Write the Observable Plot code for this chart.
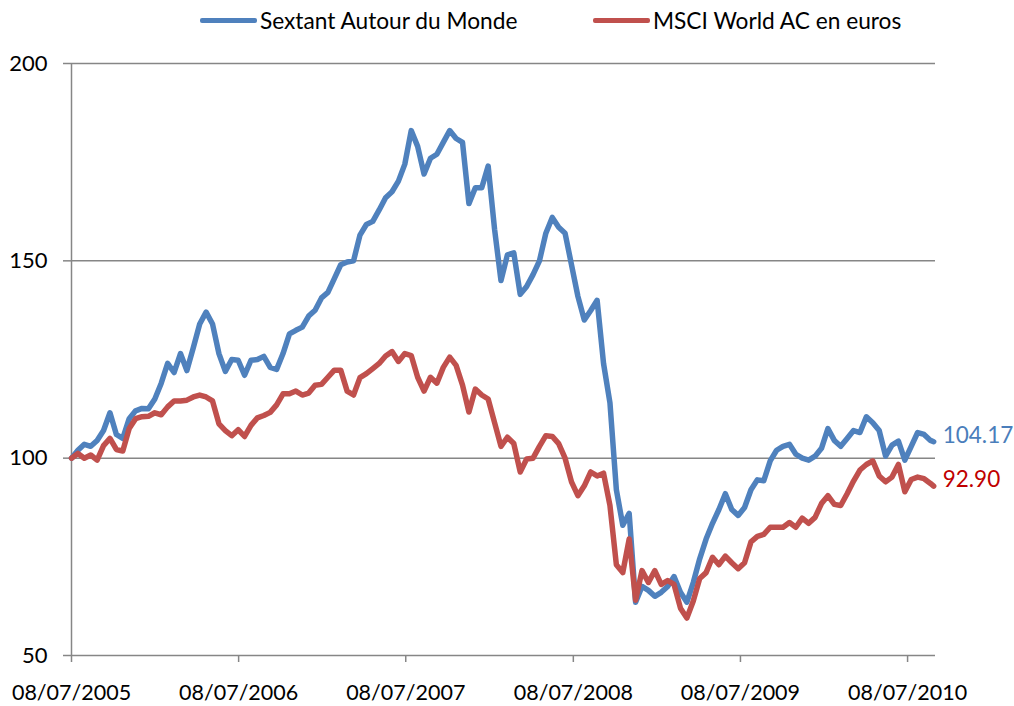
<!DOCTYPE html>
<html>
<head>
<meta charset="utf-8">
<script src="https://cdn.jsdelivr.net/npm/d3@7"></script>
<script src="https://cdn.jsdelivr.net/npm/@observablehq/plot@0.6"></script>
<style>
  html, body { margin: 0; padding: 0; background: #fff; }
  #wrap { width: 1014px; height: 706px; position: relative; overflow: hidden; font-family: Lato, sans-serif; }
  #legend { position: relative; height: 40px; font-size: 22.7px; color: #000; }
  .item { position: absolute; top: 0; height: 40px; display: flex; align-items: center; white-space: nowrap; }
  .sw { width: 57px; height: 5px; border-radius: 2px; margin-right: 3px; }
</style>
</head>
<body>
<div id="wrap">
  <div id="legend"></div>
  <div id="chart"></div>
</div>
<script>
const seriesNames = ["Sextant Autour du Monde", "MSCI World AC en euros"];
const seriesColors = ["#4f81bd", "#c0504d"];
const labelColors = ["#4a7ebb", "#c00000"];
const endLabels = ["104.17", "92.90"];
const yTicks = [50, 100, 150, 200];
const xTicks = ["2005-07-08", "2006-07-08", "2007-07-08", "2008-07-08", "2009-07-08", "2010-07-08"];
const xDomain = ["2005-07-08", "2010-09-07"];

const dates = [
  "2005-07-08","2005-07-22","2005-08-05","2005-08-19","2005-09-02","2005-09-16","2005-09-30","2005-10-14","2005-10-28","2005-11-11","2005-11-25","2005-12-09","2005-12-23",
  "2006-01-06","2006-01-20","2006-02-03","2006-02-17","2006-03-03","2006-03-17","2006-03-31","2006-04-14","2006-04-28","2006-05-12","2006-05-26","2006-06-09","2006-06-23","2006-07-07","2006-07-21","2006-08-04","2006-08-18","2006-09-01","2006-09-15","2006-09-29","2006-10-13","2006-10-27","2006-11-10","2006-11-24","2006-12-08","2006-12-22",
  "2007-01-05","2007-01-19","2007-02-02","2007-02-16","2007-03-02","2007-03-16","2007-03-30","2007-04-13","2007-04-27","2007-05-11","2007-05-25","2007-06-08","2007-06-22","2007-07-06","2007-07-20","2007-08-03","2007-08-17","2007-08-31","2007-09-14","2007-09-28","2007-10-12","2007-10-26","2007-11-09","2007-11-23","2007-12-07","2007-12-21",
  "2008-01-04","2008-01-18","2008-02-01","2008-02-15","2008-02-29","2008-03-14","2008-03-28","2008-04-11","2008-04-25","2008-05-09","2008-05-23","2008-06-06","2008-06-20","2008-07-04","2008-07-18","2008-08-01","2008-08-15","2008-08-29","2008-09-12","2008-09-26","2008-10-10","2008-10-24","2008-11-07","2008-11-21","2008-12-05","2008-12-19",
  "2009-01-02","2009-01-16","2009-01-30","2009-02-13","2009-02-27","2009-03-13","2009-03-27","2009-04-10","2009-04-24","2009-05-08","2009-05-22","2009-06-05","2009-06-19","2009-07-03","2009-07-17","2009-07-31","2009-08-14","2009-08-28","2009-09-11","2009-09-25","2009-10-09","2009-10-23","2009-11-06","2009-11-20","2009-12-04","2009-12-18",
  "2010-01-01","2010-01-15","2010-01-29","2010-02-12","2010-02-26","2010-03-12","2010-03-26","2010-04-09","2010-04-23","2010-05-07","2010-05-21","2010-06-04","2010-06-18","2010-07-02","2010-07-16","2010-07-30","2010-08-13","2010-08-27","2010-09-03"
];

const sextant = [
  100, 102, 103.5, 103, 104.5, 107, 111.5, 106, 105, 110, 112, 112.6, 112.5,
  115, 119, 124, 121.7, 126.5, 122.2, 128, 134, 137, 134, 126.5, 122, 125, 124.8, 121, 124.8, 125, 125.8, 123, 122.5, 126.5, 131.5, 132.4, 133.2, 136, 137.5,
  140.6, 142, 145.5, 149, 149.7, 150, 156.5, 159.2, 160, 162.9, 166, 167.5, 170.2, 174.5, 183, 179, 172, 176, 177, 180, 183, 181, 180, 164.5, 168.5, 168.5,
  174, 158, 145, 151.5, 152, 141.5, 143.5, 146.5, 150, 157, 161, 158.5, 157, 149, 141, 135, 137.4, 140, 124, 114, 92, 83, 86, 63.5, 67.5, 66.5,
  65, 66, 67.5, 70, 66, 63.5, 68.5, 74.5, 79.5, 83.5, 87, 91, 87, 85.5, 87.5, 92, 94.5, 94.3, 99.3, 102, 103, 103.5, 101, 100, 99.5, 100.5,
  102.5, 107.5, 104.5, 103, 105, 107, 106.5, 110.5, 109, 107, 100.5, 103.3, 104.3, 99.5, 103, 106.5, 106, 104.5, 104.17
];

const msci = [
  100, 101.2, 100, 100.8, 99.5, 103.2, 105, 102.2, 101.8, 107.5, 110, 110.5, 110.6,
  111.5, 111, 113, 114.5, 114.5, 114.7, 115.5, 116, 115.5, 114.5, 108.7, 107, 105.7, 107.2, 105.5, 108.3, 110.2, 110.8, 111.6, 113.5, 116.3, 116.3, 117, 116, 116.5, 118.5,
  118.7, 120.5, 122.3, 122.3, 117, 116, 120.4, 121.4, 122.7, 124, 125.9, 127, 124.5, 126.5, 126, 120.5, 117, 120.5, 119, 123, 125.6, 123.5, 118.5, 111.7, 117.5, 116,
  115, 109, 103, 105.3, 103.7, 96.5, 99.8, 100, 103, 105.7, 105.5, 103.7, 100, 94, 90.5, 93, 96.5, 95.5, 96.2, 88, 73, 71, 79.5, 64, 71.5, 68.5,
  71.5, 68, 69, 68, 62, 59.5, 63.8, 69.5, 71, 74.9, 73, 75.2, 73.5, 72, 73.5, 78.8, 80.2, 80.7, 82.5, 82.5, 82.5, 83.7, 82.5, 84.8, 83.5, 85,
  88.5, 90.5, 88.3, 88, 91, 94.2, 97, 98.4, 99.3, 95.5, 94, 95.2, 98.4, 91.5, 94.6, 95.2, 94.8, 93.6, 92.90
];

// Legend
const legend = document.getElementById("legend");
const legendLeft = [200, 593];
seriesNames.forEach((name, i) => {
  const it = document.createElement("div");
  it.className = "item";
  it.style.left = legendLeft[i] + "px";
  const sw = document.createElement("div");
  sw.className = "sw";
  sw.style.background = seriesColors[i];
  const tx = document.createElement("span");
  tx.textContent = name;
  it.appendChild(sw);
  it.appendChild(tx);
  legend.appendChild(it);
});

const parse = d3.utcParse("%Y-%m-%d");
const seriesValues = [sextant, msci];
const rows = [];
seriesValues.forEach((vals, s) => {
  dates.forEach((d, i) => rows.push({date: parse(d), value: vals[i], series: seriesNames[s]}));
});
const lastRows = seriesValues.map((vals, s) => ({
  date: parse(dates[dates.length - 1]), value: vals[vals.length - 1], label: endLabels[s], color: labelColors[s]
}));

const grid = "#868686";
const chart = Plot.plot({
  width: 1014,
  height: 666,
  marginTop: 23,
  marginBottom: 51,
  marginLeft: 71,
  marginRight: 79,
  style: {fontFamily: "Lato, sans-serif", color: "#000", background: "#fff", overflow: "visible"},
  x: {type: "utc", domain: xDomain.map(parse)},
  y: {domain: [50, 200]},
  color: {domain: seriesNames, range: seriesColors},
  marks: [
    Plot.ruleY([100, 150, 200], {stroke: grid, strokeWidth: 1.5}),
    Plot.ruleY([50], {stroke: grid, strokeWidth: 1.5}),
    Plot.ruleX([parse(xDomain[0])], {stroke: grid, strokeWidth: 1.5}),
    Plot.axisY({ticks: yTicks, tickSize: 8, tickPadding: 16, fontSize: 22, stroke: grid, strokeWidth: 1.5, label: null}),
    Plot.axisX({ticks: xTicks.map(parse), tickFormat: d3.utcFormat("%d/%m/%Y"), tickSize: 7, tickPadding: 22, fontSize: 21.5, stroke: grid, strokeWidth: 1.5, label: null}),
    Plot.line(rows, {x: "date", y: "value", z: "series", stroke: "series", strokeWidth: 5.5, strokeLinejoin: "round", strokeLinecap: "round"}),
    Plot.text(lastRows, {x: "date", y: "value", text: "label", fill: "color", textAnchor: "start", dx: 9, dy: -6, fontSize: 22.5})
  ]
});
document.getElementById("chart").appendChild(chart);
</script>
</body>
</html>
